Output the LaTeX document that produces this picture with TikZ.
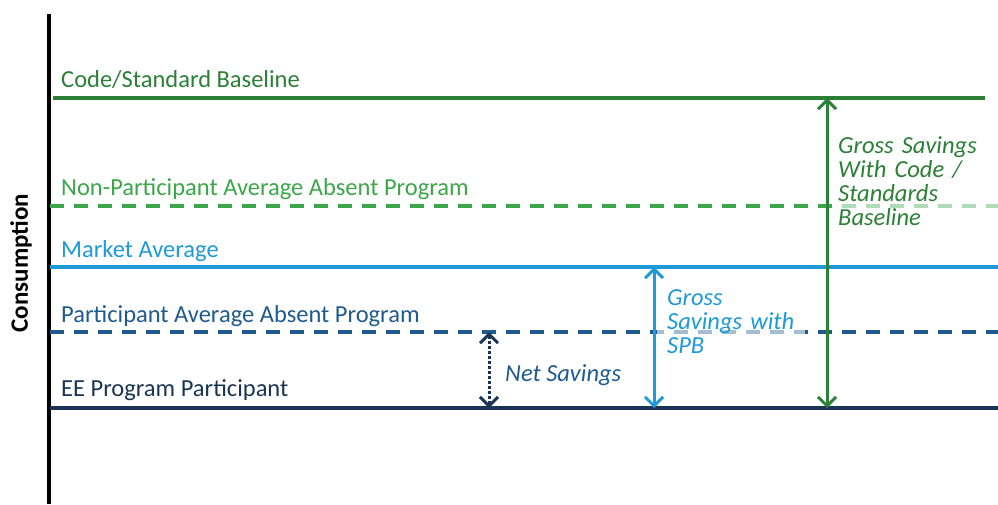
\documentclass[tikz,border=0pt]{standalone}
\usepackage{fontspec}
\setmainfont{Carlito}
\usetikzlibrary{arrows.meta}
\definecolor{cgreen}{HTML}{2A8036}
\definecolor{lgreen}{HTML}{3CA64A}
\definecolor{mblue}{HTML}{1E9AD8}
\definecolor{dblue}{HTML}{1F5A8E}
\definecolor{navy}{HTML}{1A3553}
\begin{document}
\begin{tikzpicture}[x=1pt,y=-1pt,
  lvl/.style={line width=3.2pt},
  dsh/.style={line width=3.2pt,dash pattern=on 14pt off 10pt},
  lbl/.style={anchor=base west,inner sep=0pt,font=\fontsize{24.5}{24}\selectfont},
  barb/.tip={Straight Barb[length=9pt,width=18pt,line width=3pt]},
  arr/.style={line width=3pt,barb-barb},
  note/.style={anchor=base west,align=left,inner ysep=3pt,font=\fontsize{24.5}{24}\selectfont\itshape,fill=white,fill opacity=0.6,text opacity=1}]
\useasboundingbox (0,0) rectangle (998,504);
% axis
\coordinate (axT) at (49,14);
\coordinate (axB) at (49,504);
\draw[line width=3.5pt,black] (axT) -- (axB);
% level lines
\coordinate (c1) at (53,98);  \coordinate (c2) at (985,98);
\coordinate (n1) at (50,206); \coordinate (n2) at (998,206);
\coordinate (m1) at (50,267); \coordinate (m2) at (998,267);
\coordinate (p1) at (50,332); \coordinate (p2) at (998,332);
\coordinate (e1) at (50,408); \coordinate (e2) at (998,408);
\draw[lvl,cgreen] (c1) -- (c2);
\draw[dsh,lgreen] (n1) -- (n2);
\draw[lvl,mblue] (m1) -- (m2);
\draw[dsh,dblue] (p1) -- (p2);
\draw[lvl,navy] (e1) -- (e2);
% labels
\node[lbl,cgreen] (lc) at (61,87) {Code/Standard Baseline};
\node[lbl,lgreen] (ln) at (61,195) {Non-Participant Average Absent Program};
\node[lbl,mblue] (lm) at (61,257) {Market Average};
\node[lbl,dblue] (lp) at (61,322) {Participant Average Absent Program};
\node[lbl,navy] (le) at (61,396) {EE Program Participant};
% arrows
\coordinate (gT) at (827,98);  \coordinate (gB) at (827,408);
\coordinate (bT) at (654,267); \coordinate (bB) at (654,408);
\coordinate (dT) at (489,332); \coordinate (dB) at (489,408);
\draw[arr,cgreen] (gT) -- (gB);
\draw[arr,mblue] (bT) -- (bB);
\draw[line width=3pt,navy,dotted,barb-barb] (dT) -- (dB);
% notes
\node[note,text=cgreen,inner xsep=1pt,text width=170pt] (ng) at (837,153) {Gross Savings\\With Code /\\Standards\\Baseline};
\node[note,text=mblue,inner xsep=10pt,text width=128pt] (nb) at (657,305) {Gross\\Savings with\\SPB};
\node[lbl,dblue,font=\fontsize{24.5}{24}\selectfont\itshape] (nn) at (505,381) {Net Savings};
% y label
\node[rotate=90,font=\fontsize{25}{24}\selectfont\bfseries,inner sep=0pt] (yl) at (21,263) {Consumption};
\end{tikzpicture}
\end{document}
